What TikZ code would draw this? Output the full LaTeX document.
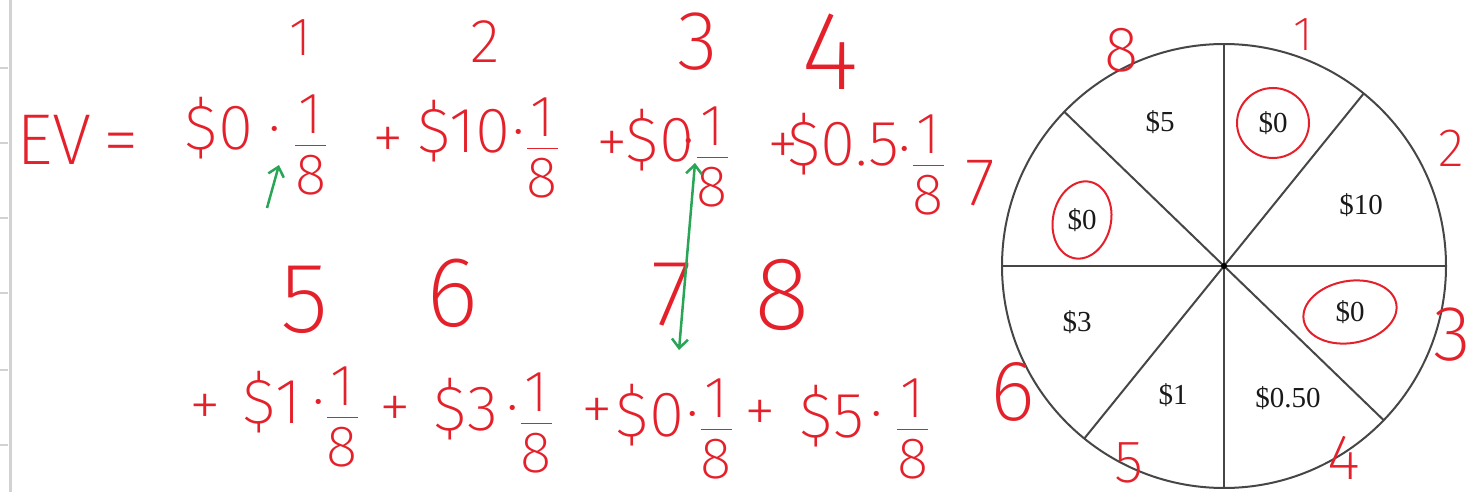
\RequirePackage{fix-cm}
\documentclass[tikz,border=0pt]{standalone}
\usepackage{amsmath}
\usepackage{graphicx}
\usepackage{fontspec}
\newfontfamily\wheelfont{Liberation Serif}
\newfontfamily\handfont{Fira Sans ExtraLight}
\usetikzlibrary{arrows.meta}
\definecolor{inkred}{RGB}{228,32,42}
\definecolor{inkgreen}{RGB}{40,165,85}
\definecolor{rim}{RGB}{70,70,70}
\newcommand{\eighth}{\raisebox{-.25em}{\scalebox{1.3}{$\frac{\text{\handfont 1}}{\text{\handfont 8}}$}}}

\begin{document}
\begin{tikzpicture}[x=1pt, y=-1pt, >={Straight Barb[length=9pt,width=16pt]},
    ink/.style={text=inkred, anchor=base, inner sep=0pt, font=\handfont\fontsize{64}{64}\selectfont},
    num/.style={text=inkred, inner sep=0pt, font=\handfont\fontsize{#1}{#1}\selectfont},
    num/.default=64,
    prize/.style={inner sep=1pt, text=black!90, font=\wheelfont\fontsize{29}{29}\selectfont},
    ring/.style={inkred, line width=2pt},
    spoke/.style={rim, line width=2pt},
    pointer/.style={inkgreen, line width=2.5pt, ->}]
    \useasboundingbox (0,0) rectangle (1468,492);

    % edge of the page
    \draw[gray!35, line width=3pt] (10,0) -- (10,492);
    \draw[gray!35, line width=1.5pt] (0,68) -- (8,68) (0,143) -- (8,143) (0,218) -- (8,218)
        (0,293) -- (8,293) (0,370) -- (8,370) (0,445) -- (8,445);

    % first line of the sum
    \node[num=54] (n1) at (300,38) {1};
    \node[num=62] (n2) at (485,42) {2};
    \node[num=84] (n3) at (698,42) {3};
    \node[num=112] (n4) at (830,52) {4};
    \node[ink, font=\handfont\fontsize{72}{72}\selectfont] (ev) at (78,165) {EV\,=};
    \node[ink] (a1) at (219,150) {\$0};
    \node[ink] (f1) at (298,150) {·\hspace{.2em}\eighth};
    \node[ink] (p2) at (388,160) {+};
    \node[ink] (a2) at (464,153) {\$10};
    \node[ink] (f2) at (536,153) {·\eighth};
    \node[ink] (p3) at (612,164) {+};
    \node[ink] (a3) at (660,162) {\$0};
    \node[ink] (f3) at (706,162) {·\eighth};
    \node[ink] (p4) at (783,166) {+};
    \node[ink] (a4) at (843,166) {\$0.5};
    \node[ink] (f4) at (922,170) {·\eighth};

    % second line of the sum
    \node[num=100] (n5) at (305,300) {5};
    \node[num=100] (n6) at (452,293) {6};
    \node[num=94] (n7) at (672,295) {7};
    \node[num=104] (n8) at (782,295) {8};
    \node[ink] (p5) at (205,426) {+};
    \node[ink] (a5) at (272,423) {\$1};
    \node[ink] (f5) at (336,422) {·\eighth};
    \node[ink] (p6) at (395,428) {+};
    \node[ink] (a6) at (466,430) {\$3};
    \node[ink] (f6) at (530,428) {·\eighth};
    \node[ink] (p7) at (597,430) {+};
    \node[ink] (a7) at (650,436) {\$0};
    \node[ink] (f7) at (710,434) {·\eighth};
    \node[ink] (p8) at (760,432) {+};
    \node[ink] (a8) at (832,437) {\$5};
    \node[ink] (f8) at (900,434) {·\hspace{.2em}\eighth};

    % green marks
    \coordinate (g1s) at (267,208);
    \coordinate (g1e) at (279,165);
    \draw[pointer] (g1s) -- (g1e);
    \coordinate (g2s) at (679,350);
    \coordinate (g2e) at (695,163);
    \draw[pointer, <->] (g2s) -- (g2e);

    % the wheel
    \coordinate (C) at (1224,266);
    \draw[spoke] (C) circle [radius=222pt];
    \begin{scope}[shift={(C)}]
        \draw[spoke] (90:222pt) -- (270:222pt);
        \draw[spoke] (0:222pt) -- (180:222pt);
        \draw[spoke] (51:222pt) -- (231:222pt);
        \draw[spoke] (136:222pt) -- (316:222pt);
    \end{scope}
    \fill[black] (C) circle [radius=3pt];

    \node[prize] (w5) at (1160,122) {\$5};
    \node[prize] (w0a) at (1273,123) {\$0};
    \node[prize] (w10) at (1361,205) {\$10};
    \node[prize] (w0b) at (1082,220) {\$0};
    \node[prize] (w3) at (1077,322) {\$3};
    \node[prize] (w1) at (1173,395) {\$1};
    \node[prize] (w050) at (1288,398) {\$0.50};
    \node[prize] (w0c) at (1350,312) {\$0};

    \draw[ring] (w0a) ellipse [x radius=36pt, y radius=35pt];
    \draw[ring] (w0b) ellipse [x radius=29pt, y radius=39pt, rotate=-12];
    \draw[ring] (w0c) ellipse [x radius=47pt, y radius=31pt, rotate=10];

    % numbers round the wheel
    \node[num=64] (r8) at (1122,50) {8};
    \node[num=48] (r1) at (1303,35) {1};
    \node[num=54] (r2) at (1451,148) {2};
    \node[num=78] (r3) at (1452,335) {3};
    \node[num=64] (r4) at (1344,458) {4};
    \node[num=60] (r5) at (1129,463) {5};
    \node[num=86] (r6) at (1013,392) {6};
    \node[num=68] (r7) at (980,183) {7};
\end{tikzpicture}
\end{document}
